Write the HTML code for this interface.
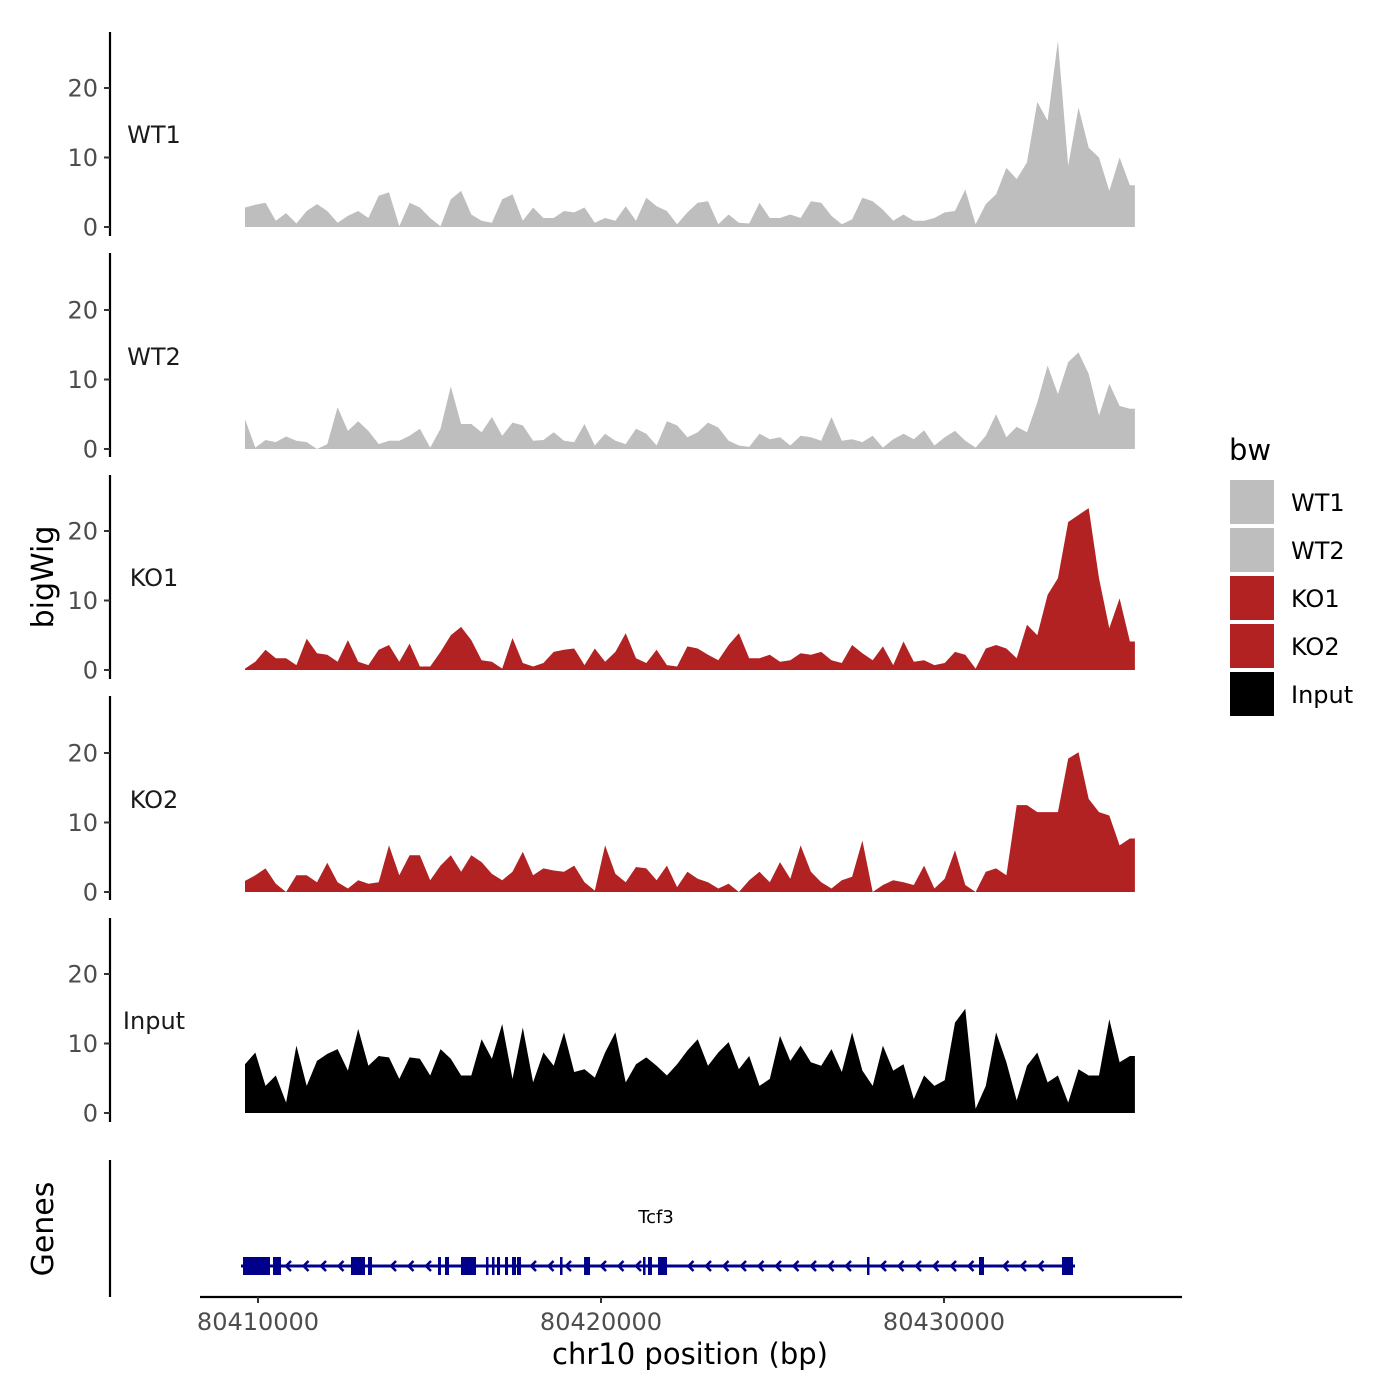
<!DOCTYPE html>
<html><head><meta charset="utf-8"><style>
body{margin:0;background:#fff}
svg{display:block;font-family:"DejaVu Sans","Liberation Sans",sans-serif}
</style></head><body>
<svg id="chart" width="1400" height="1400" viewBox="0 0 1400 1400" xmlns="http://www.w3.org/2000/svg">
<rect width="1400" height="1400" fill="#fff"/>
<g id="tracks"></g>
<g id="genes"></g>
<g id="axes"></g>
<text x="53" y="577" font-size="30" text-anchor="middle" transform="rotate(-90 53 577)">bigWig</text>
<text x="53" y="1229" font-size="30" text-anchor="middle" transform="rotate(-90 53 1229)">Genes</text>
<text x="690" y="1364" font-size="29" text-anchor="middle">chr10 position (bp)</text>
<g>
<text x="1229" y="460" font-size="29">bw</text>
<rect x="1230" y="480" width="44" height="44" fill="#bebebe"/>
<rect x="1230" y="528" width="44" height="44" fill="#bebebe"/>
<rect x="1230" y="576" width="44" height="44" fill="#b22222"/>
<rect x="1230" y="624" width="44" height="44" fill="#b22222"/>
<rect x="1230" y="672" width="44" height="44" fill="#000"/>
<text x="1291" y="511" font-size="24">WT1</text>
<text x="1291" y="559" font-size="24">WT2</text>
<text x="1291" y="607" font-size="24">KO1</text>
<text x="1291" y="655" font-size="24">KO2</text>
<text x="1291" y="703" font-size="24">Input</text>
</g>
</svg>
<script>
const binStart = 80409620;
const binStep = 300;
const trackNames = ["WT1","WT2","KO1","KO2","Input"];
const wt1 = [2.8,3.2,3.5,0.9,2,0.5,2.3,3.3,2.3,0.6,1.6,2.3,1.3,4.5,5,0.1,3.5,2.8,1.3,0.1,4,5.2,1.8,0.9,0.6,4,4.7,0.9,2.8,1.3,1.3,2.3,2.1,2.8,0.6,1.3,0.9,3,0.9,4.2,3,2.3,0.4,2.1,3.5,3.7,0.4,1.8,0.6,0.5,3.5,1.3,1.3,1.8,1.3,3.7,3.5,1.6,0.4,1.1,4.2,3.7,2.5,0.9,1.8,0.9,0.9,1.3,2.1,2.3,5.4,0.4,3.3,4.7,8.5,6.9,9.3,18,15.3,26.8,8.8,17.2,11.4,10,5.2,10,6];
const wt2 = [4.3,0.2,1.3,1,1.8,1.2,1,0,0.7,6,2.6,4,2.6,0.7,1.2,1.2,1.9,2.9,0.2,2.9,9,3.6,3.6,2.4,4.6,1.9,3.8,3.4,1.2,1.3,2.4,1.2,1,3.6,0.5,2.2,1.2,0.7,2.9,2.2,0.5,4,3.4,1.7,2.4,3.8,3.1,1.2,0.5,0.3,2.2,1.4,1.7,0.5,1.9,1.7,1.2,4.6,1.2,1.4,1,1.9,0.2,1.4,2.2,1.4,2.7,0.5,1.7,2.6,1.2,0.2,1.9,5,1.7,3.2,2.4,6.7,12,7.9,12.5,13.9,10.8,4.8,9.4,6.2,5.8];
const ko1 = [0.2,1.2,2.9,1.7,1.7,0.7,4.5,2.4,2.2,1.2,4.3,1.2,0.7,2.9,3.6,1.2,3.8,0.5,0.5,2.6,5,6.2,4.3,1.4,1.2,0.2,4.6,1,0.5,1,2.6,2.9,3.1,0.7,3.1,1.2,2.6,5.3,1.7,1,2.9,0.7,0.5,3.4,3.1,2.2,1.4,3.6,5.3,1.7,1.7,2.2,1.2,1.4,2.4,2.2,2.6,1.4,1,3.6,2.4,1.4,3.4,0.7,4.1,1.2,1.4,0.7,1,2.6,2.2,0.2,3.1,3.6,3.1,1.7,6.5,5,10.8,13.2,21.3,22.3,23.3,13.2,6,10.3,4.1];
const ko2 = [1.6,2.4,3.4,1.2,0,2.4,2.4,1.4,4.2,1.4,0.5,1.7,1.2,1.4,6.7,2.4,5.3,5.3,1.7,3.8,5.3,2.9,5.3,4.3,2.6,1.7,2.9,5.8,2.4,3.4,3.1,2.9,3.8,1.4,0.2,6.7,2.6,1.4,3.6,3.4,1.7,3.8,0.7,2.9,1.9,1.4,0.5,1.2,0,1.7,2.9,1.4,4.3,1.9,6.7,2.9,1.4,0.5,1.7,2.2,7.4,0,1,1.7,1.4,1,3.8,0.5,1.9,6,1,0,2.9,3.4,2.4,12.5,12.5,11.5,11.5,11.5,19.2,20.1,13.4,11.5,11,6.7,7.7];
const inputv = [7,8.7,3.9,5.4,1.5,9.7,3.9,7.5,8.5,9.2,6.1,12.1,6.8,8.2,8,4.9,8,7.8,5.4,9.2,7.8,5.4,5.4,10.6,7.8,12.8,4.9,12.3,4.4,8.7,6.8,11.6,5.9,6.3,5.1,8.7,11.6,4.4,7,8,6.8,5.4,7,9,10.6,6.8,8.7,10.2,6.3,8.2,3.9,4.9,11.1,7.5,9.7,7.3,6.8,9.2,5.9,11.6,6.1,3.9,9.7,6.1,7,2,5.4,3.9,4.7,13,15,0.6,3.9,11.6,7.3,1.8,6.8,8.7,4.4,5.4,1.5,6.3,5.4,5.4,13.5,7.3,8.2];
const yTicks = [0,10,20];
const xTicks = [80410000,80420000,80430000];
const xTickLabels = ["80410000","80420000","80430000"];
const exonStarts = [80409563,80410437,80412711,80413207,80415248,80415452,80415918,80416647,80416822,80416968,80417201,80417405,80417551,80418805,80419505,80421225,80421370,80421662,80427755,80431020,80433440];
const exonEnds = [80410350,80410671,80413120,80413324,80415335,80415569,80416356,80416706,80416881,80417056,80417289,80417522,80417668,80418863,80419680,80421283,80421487,80421925,80427813,80431166,80433761];
const geneStart = 80409563, geneEnd = 80433761, geneName = "Tcf3";

const NS="http://www.w3.org/2000/svg";
const xScale = bp => 258 + (bp-80410000)*0.0343;
const zeros = [227,449,670,892,1113];
const axisTop = [32,253,475,696,918];
const yScale = (v,t) => zeros[t] - v*6.95;
const series = [wt1,wt2,ko1,ko2,inputv];
const colors = ["#bebebe","#bebebe","#b22222","#b22222","#000000"];
function mk(tag,attrs,parent){const e=document.createElementNS(NS,tag);for(const k in attrs)e.setAttribute(k,attrs[k]);parent.appendChild(e);return e;}
const tg=document.getElementById('tracks'), ag=document.getElementById('axes'), gg=document.getElementById('genes');
series.forEach((vals,t)=>{
  let d='M'+xScale(binStart).toFixed(1)+','+zeros[t];
  vals.forEach((v,i)=>{d+=' L'+xScale(binStart+i*binStep).toFixed(1)+','+yScale(v,t).toFixed(1);});
  const xe=xScale(binStart+(vals.length-1)*binStep)+5;
  d+=' L'+xe.toFixed(1)+','+yScale(vals[vals.length-1],t).toFixed(1)+' L'+xe.toFixed(1)+','+zeros[t]+' Z';
  const p=mk('path',{d:d,fill:colors[t]},tg);
  
  
  const ln=mk('line',{x1:110,x2:110,y1:axisTop[t],y2:axisTop[t]+204,stroke:'#000','stroke-width':2.2},ag);
  
  
  yTicks.forEach(v=>{
    const y=yScale(v,t);
    const tk=mk('line',{x1:104,x2:110,y1:y,y2:y,stroke:'#333','stroke-width':2},ag);
    
    
    const tx=mk('text',{x:98,y:y+8.5,'font-size':24,'text-anchor':'end',fill:'#4d4d4d'},ag);
    tx.textContent=v;
    
    
  });
  const lab=mk('text',{x:154,y:zeros[t]-84,'font-size':24,'text-anchor':'middle',fill:'#1a1a1a'},ag);
  lab.textContent=trackNames[t];
  
  
});
let gl=mk('line',{x1:110,x2:110,y1:1160,y2:1297,stroke:'#000','stroke-width':2.2},ag);


let xl=mk('line',{x1:200,x2:1182,y1:1297,y2:1297,stroke:'#000','stroke-width':2.2},ag);


xTicks.forEach((b,i)=>{
  const x=xScale(b);
  const tk=mk('line',{x1:x,x2:x,y1:1297,y2:1303,stroke:'#333','stroke-width':2},ag);
  
  
  const tx=mk('text',{x:x,y:1330,'font-size':24,'text-anchor':'middle',fill:'#4d4d4d'},ag);
  tx.textContent=xTickLabels[i];
  
  
});
const gy=1266, navy='#00008b';
let gline=mk('line',{x1:xScale(geneStart)-2,x2:xScale(geneEnd)+2,y1:gy,y2:gy,stroke:navy,'stroke-width':3},gg);


const exX=exonStarts.map((s,i)=>[xScale(s),xScale(exonEnds[i])]);
for(let x=xScale(geneStart)+10;x<xScale(geneEnd)-4;x+=17.5){
  if(exX.some(([a,b])=>x>a-4&&x<b+6))continue;
  const ch=mk('polyline',{points:`${x+3},${gy-5} ${x-2},${gy} ${x+3},${gy+5}`,fill:'none',stroke:navy,'stroke-width':2.5},gg);
  
  
}
exX.forEach(([a,b])=>{
  const r=mk('rect',{x:a,y:gy-9,width:Math.max(b-a,2.5),height:18,fill:navy},gg);
  
  
});
const gt=mk('text',{x:656,y:1223,'font-size':18,'text-anchor':'middle',fill:'#000'},gg);
gt.textContent=geneName;


</script>
</body></html>
